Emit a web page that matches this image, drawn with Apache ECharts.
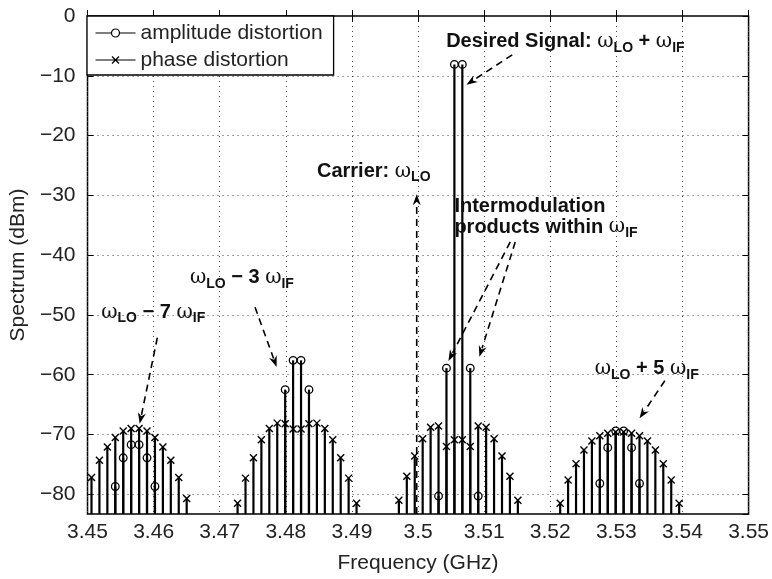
<!DOCTYPE html>
<html>
<head>
<meta charset="utf-8">
<script src="https://cdn.jsdelivr.net/npm/echarts@6/dist/echarts.min.js"></script>
<style>
  html, body { margin: 0; padding: 0; background: #fff; }
  #chart { width: 772px; height: 579px; }
</style>
</head>
<body>
<div id="chart"></div>
<script>
// stem data, frequency in GHz, level in dBm
var ampFreq = [3.4542, 3.4554, 3.4566, 3.4578, 3.4590, 3.4602,
  3.4799, 3.4811, 3.4823, 3.4835,
  3.5031, 3.5043, 3.5055, 3.5067, 3.5079, 3.5091,
  3.5275, 3.5287, 3.5299, 3.5311, 3.5323, 3.5335];
var ampDbm = [-78.7, -73.9, -71.7, -71.7, -73.9, -78.7,
  -62.5, -57.6, -57.6, -62.5,
  -80.3, -58.9, -8.1, -8.1, -58.9, -80.3,
  -78.2, -72.2, -69.4, -69.4, -72.2, -78.2];

var phaseFreq = [3.4506, 3.4518, 3.4530, 3.4542, 3.4554, 3.4566, 3.4578, 3.4590, 3.4602, 3.4614, 3.4626, 3.4638, 3.4650,
  3.4727, 3.4739, 3.4751, 3.4763, 3.4775, 3.4787, 3.4799, 3.4811, 3.4823, 3.4835, 3.4847, 3.4859, 3.4871, 3.4883, 3.4895, 3.4907,
  3.4971, 3.4983, 3.4995, 3.5007, 3.5019, 3.5031, 3.5043, 3.5055, 3.5067, 3.5079, 3.5091, 3.5103, 3.5115, 3.5127, 3.5139, 3.5151,
  3.5215, 3.5227, 3.5239, 3.5251, 3.5263, 3.5275, 3.5287, 3.5299, 3.5311, 3.5323, 3.5335, 3.5347, 3.5359, 3.5371, 3.5383, 3.5395];
var phaseDbm = [-77.2, -74.3, -72.1, -70.5, -69.4, -69.0, -69.0, -69.4, -70.5, -72.1, -74.3, -77.2, -80.7,
  -81.5, -77.3, -73.9, -70.9, -69.0, -68.1, -68.2, -69.1, -69.1, -68.2, -68.1, -69.0, -70.9, -73.9, -77.3, -81.5,
  -81.0, -77.0, -73.6, -70.7, -68.8, -68.6, -72.0, -70.9, -70.9, -72.0, -68.6, -68.8, -70.7, -73.6, -77.0, -81.0,
  -81.5, -77.6, -74.9, -72.6, -71.1, -70.2, -69.8, -69.6, -69.6, -69.8, -70.2, -71.1, -72.6, -74.9, -77.6, -81.5];

var seriesNames = ['amplitude distortion', 'phase distortion'];
var xMin = 3.45, xMax = 3.55, xStep = 0.01;
var yMin = -83.3, yMax = 0;

// annotation texts and arrows, anchored in data units
var noteTexts = [
  { t: '{b|Desired Signal: }{w|ω}{s|LO}{b| + }{w|ω}{s|IF}', at: [3.50425, -4.3], align: 'left' },
  { t: '{b|Carrier: }{w|ω}{s|LO}', at: [3.50189, -26.0], align: 'right' },
  { t: '{b|Intermodulation}', at: [3.5055, -31.8], align: 'left' },
  { t: '{b|products within }{w|ω}{s|IF}', at: [3.5055, -35.3], align: 'left' },
  { t: '{w|ω}{s|LO}{b| − 3 }{w|ω}{s|IF}', at: [3.48122, -43.8], align: 'right' },
  { t: '{w|ω}{s|LO}{b| − 7 }{w|ω}{s|IF}', at: [3.4678, -49.6], align: 'right' },
  { t: '{w|ω}{s|LO}{b| + 5 }{w|ω}{s|IF}', at: [3.54246, -59.0], align: 'right' }
];
var noteArrows = [
  [[3.51425, -6.5], [3.50732, -11.5]],
  [[3.4998, -83.3], [3.4998, -29.8]],
  [[3.51395, -37.8], [3.5046, -57.7]],
  [[3.5147, -37.8], [3.50928, -57.0]],
  [[3.47534, -48.7], [3.47861, -58.7]],
  [[3.46056, -53.8], [3.45789, -68.2]],
  [[3.53733, -61.0], [3.53351, -67.3]]
];

var font = '"Liberation Sans", Arial, Helvetica, sans-serif';

function pairs(xs, ys) {
  return xs.map(function (x, i) { return [x, ys[i]]; });
}

function stemRender(mark) {
  return function (params, api) {
    var top = api.coord([api.value(0), api.value(1)]);
    var base = api.coord([api.value(0), yMin]);
    var kids = [{
      type: 'line',
      shape: { x1: top[0], y1: base[1], x2: top[0], y2: top[1] },
      style: { stroke: '#000', lineWidth: 2.2 }
    }];
    if (mark === 'o') {
      kids.push({
        type: 'circle',
        shape: { cx: top[0], cy: top[1], r: 3.8 },
        style: { fill: 'none', stroke: '#000', lineWidth: 1.3 }
      });
    } else {
      var d = 3.5;
      kids.push({
        type: 'line',
        shape: { x1: top[0] - d, y1: top[1] - d, x2: top[0] + d, y2: top[1] + d },
        style: { stroke: '#000', lineWidth: 1.4 }
      });
      kids.push({
        type: 'line',
        shape: { x1: top[0] - d, y1: top[1] + d, x2: top[0] + d, y2: top[1] - d },
        style: { stroke: '#000', lineWidth: 1.4 }
      });
    }
    return { type: 'group', children: kids };
  };
}

var gridLine = { show: true, lineStyle: { color: '#444', type: [1, 4], width: 1 } };
var minus = function (v) { return String(v).replace('-', '\u2212'); };

var chart = echarts.init(document.getElementById('chart'), null, { renderer: 'canvas' });

var option = {
  animation: false,
  backgroundColor: '#fff',
  textStyle: { fontFamily: font },
  grid: {
    left: 87, right: 22, top: 16, bottom: 63,
    show: true, borderColor: '#000', borderWidth: 1.5, backgroundColor: '#fff'
  },
  legend: {
    left: 87, top: 16,
    orient: 'vertical',
    backgroundColor: '#fff',
    borderColor: '#000', borderWidth: 1.3,
    borderRadius: 0,
    padding: [6, 11, 4, 6],
    itemGap: 5,
    itemWidth: 40, itemHeight: 8,
    textStyle: { fontFamily: font, fontSize: 21, color: '#222', lineHeight: 22 },
    data: [
      {
        name: seriesNames[0],
        icon: 'path://M0,6H16M24,6H40M24,6A4,4,0,1,1,16,6A4,4,0,1,1,24,6',
        itemStyle: { color: 'none', borderColor: '#000', borderWidth: 1.2 }
      },
      {
        name: seriesNames[1],
        icon: 'path://M0,6H40M16.5,2.5L23.5,9.5M23.5,2.5L16.5,9.5',
        itemStyle: { color: 'none', borderColor: '#000', borderWidth: 1.2 }
      }
    ]
  },
  xAxis: [{
    type: 'value', min: xMin, max: xMax, interval: xStep,
    name: 'Frequency (GHz)', nameLocation: 'middle', nameGap: 39,
    nameTextStyle: { fontFamily: font, fontSize: 21, color: '#222' },
    axisLine: { show: false },
    axisTick: { show: true, inside: true, length: 6, lineStyle: { color: '#000' } },
    axisLabel: { margin: 8, fontFamily: font, fontSize: 21, color: '#222',
      formatter: function (v) { return String(+v.toFixed(2)); } },
    splitLine: gridLine
  }, {
    type: 'value', min: xMin, max: xMax, interval: xStep, position: 'top',
    axisLine: { show: false }, axisLabel: { show: false }, splitLine: { show: false },
    axisTick: { show: true, inside: true, length: 6, lineStyle: { color: '#000' } }
  }],
  yAxis: [{
    type: 'value', min: yMin, max: yMax, splitNumber: 8,
    name: 'Spectrum (dBm)', nameLocation: 'middle', nameGap: 57,
    nameTextStyle: { fontFamily: font, fontSize: 21, color: '#222' },
    axisLine: { show: false },
    axisTick: { show: true, inside: true, length: 6, lineStyle: { color: '#000' } },
    axisLabel: { margin: 12, fontFamily: font, fontSize: 21, color: '#222',
      showMinLabel: false, formatter: minus },
    splitLine: Object.assign({ showMinLine: false }, gridLine)
  }, {
    type: 'value', min: yMin, max: yMax, splitNumber: 8, position: 'right',
    axisLine: { show: false }, axisLabel: { show: false }, splitLine: { show: false },
    axisTick: { show: true, inside: true, length: 6, lineStyle: { color: '#000' } }
  }],
  series: [{
    name: seriesNames[0], type: 'custom', clip: true,
    itemStyle: { color: '#000' },
    renderItem: stemRender('o'),
    data: pairs(ampFreq, ampDbm), z: 3
  }, {
    name: seriesNames[1], type: 'custom', clip: true,
    itemStyle: { color: '#000' },
    renderItem: stemRender('x'),
    data: pairs(phaseFreq, phaseDbm), z: 3
  }]
};
chart.setOption(option);

// annotations placed through the axes
var rich = {
  b: { fontFamily: font, fontWeight: 'bold', fontSize: 20, lineHeight: 26, color: '#111' },
  w: { fontFamily: '"DejaVu Serif", "Liberation Serif", serif', fontSize: 20, lineHeight: 26, color: '#111' },
  s: { fontFamily: font, fontWeight: 'bold', fontSize: 14, lineHeight: 14, verticalAlign: 'bottom', color: '#111' }
};
var toPx = function (p) { return chart.convertToPixel({ gridIndex: 0 }, p); };
var graphics = [];
noteTexts.forEach(function (n) {
  var p = toPx(n.at);
  graphics.push({
    type: 'text', x: p[0], y: p[1], z: 10,
    style: { text: n.t, rich: rich, align: n.align, verticalAlign: 'middle', fill: '#111' }
  });
});
noteArrows.forEach(function (a) {
  var p0 = toPx(a[0]), p1 = toPx(a[1]);
  var dx = p1[0] - p0[0], dy = p1[1] - p0[1];
  var len = Math.sqrt(dx * dx + dy * dy), ux = dx / len, uy = dy / len;
  var hl = 11, hw = 4;
  var bx = p1[0] - ux * hl, by = p1[1] - uy * hl;
  graphics.push({
    type: 'line', z: 10,
    shape: { x1: p0[0], y1: p0[1], x2: bx + ux * 2, y2: by + uy * 2 },
    style: { stroke: '#000', lineWidth: 1.6, lineDash: [7, 5] }
  });
  graphics.push({
    type: 'polygon', z: 10,
    shape: { points: [[p1[0], p1[1]], [bx - uy * hw, by + ux * hw], [p1[0] - ux * hl * 0.7, p1[1] - uy * hl * 0.7], [bx + uy * hw, by - ux * hw]] },
    style: { fill: '#000' }
  });
});
chart.setOption({ graphic: graphics });
</script>
</body>
</html>
